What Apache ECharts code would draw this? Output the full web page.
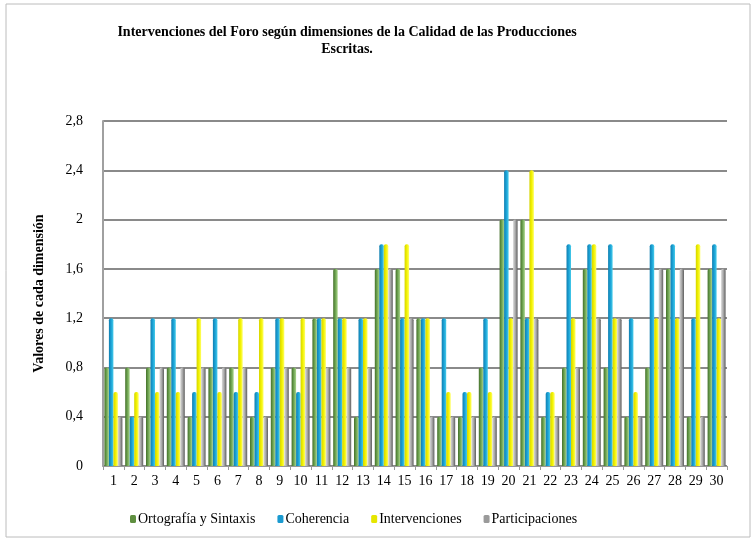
<!DOCTYPE html>
<html>
<head>
<meta charset="utf-8">
<script src="https://cdn.jsdelivr.net/npm/echarts@6/dist/echarts.min.js"></script>
<style>
  html, body { margin: 0; padding: 0; background: #fff; }
  #chart { width: 755px; height: 542px; }
</style>
</head>
<body>
<div id="chart"></div>
<script>
var categories = ['1','2','3','4','5','6','7','8','9','10','11','12','13','14','15',
  '16','17','18','19','20','21','22','23','24','25','26','27','28','29','30'];

var ortografia     = [0.8,0.8,0.8,0.8,0.4,0.8,0.8,0.4,0.8,0.8,1.2,1.6,0.4,1.6,1.6,1.2,0.4,0.4,0.8,2.0,2.0,0.4,0.8,1.6,0.8,0.4,0.8,1.6,0.4,1.6];
var coherencia     = [1.2,0.4,1.2,1.2,0.6,1.2,0.6,0.6,1.2,0.6,1.2,1.2,1.2,1.8,1.2,1.2,1.2,0.6,1.2,2.4,1.2,0.6,1.8,1.8,1.8,1.2,1.8,1.8,1.2,1.8];
var intervenciones = [0.6,0.6,0.6,0.6,1.2,0.6,1.2,1.2,1.2,1.2,1.2,1.2,1.2,1.8,1.8,1.2,0.6,0.6,0.6,1.2,2.4,0.6,1.2,1.8,1.2,0.6,1.2,1.2,1.8,1.2];
var participaciones= [0.4,0.4,0.8,0.8,0.8,0.8,0.8,0.4,0.8,0.8,0.8,0.8,0.8,1.6,1.2,0.4,0.4,0.4,0.4,2.0,1.2,0.4,0.8,1.2,1.2,0.4,1.6,1.6,0.4,1.6];

var SERIF = 'Liberation Serif';

// horizontal gradient to fake the cylinder shading of the original
function cyl(c0, c1, c2) {
  return new echarts.graphic.LinearGradient(0, 0, 1, 0, [
    { offset: 0, color: c0 },
    { offset: 0.5, color: c1 },
    { offset: 1, color: c2 }
  ]);
}

function bar(name, data, color) {
  return {
    name: name,
    type: 'bar',
    data: data,
    barWidth: 4.5,
    barGap: '0%',
    itemStyle: { color: color, borderRadius: [2, 2, 0, 0] }
  };
}

var chart = echarts.init(document.getElementById('chart'));

var option = {
  backgroundColor: '#fff',
  animation: false,
  legend: {
    bottom: 11,
    left: 125,
    itemWidth: 6,
    itemHeight: 8,
    itemGap: 22,
    textStyle: { fontFamily: SERIF, fontSize: 14, color: '#000', padding: [0, 0, 0, -3] },
    data: [
      { name: 'Ortografía y Sintaxis', itemStyle: { color: '#5f8f40' } },
      { name: 'Coherencia', itemStyle: { color: '#1a9ad0' } },
      { name: 'Intervenciones', itemStyle: { color: '#e6e600' } },
      { name: 'Participaciones', itemStyle: { color: '#9a9a9a' } }
    ]
  },
  grid: { left: 103, right: 28, top: 121, bottom: 76 },
  xAxis: {
    type: 'category',
    data: categories,
    axisLine: { lineStyle: { color: '#999', width: 1 } },
    axisTick: { show: true, length: 4, lineStyle: { color: '#999' } },
    axisLabel: { fontFamily: SERIF, fontSize: 14, color: '#000', margin: 8, interval: 0 }
  },
  yAxis: {
    type: 'value',
    min: 0,
    max: 2.8,
    interval: 0.4,
    name: 'Valores de cada dimensión',
    nameLocation: 'middle',
    nameGap: 57,
    nameTextStyle: { fontFamily: SERIF, fontSize: 14, fontWeight: 'bold', color: '#000' },
    axisLine: { show: true, lineStyle: { color: '#a0a0a0', width: 2 } },
    axisTick: { show: false },
    axisLabel: {
      fontFamily: SERIF, fontSize: 14, color: '#000', margin: 20,
      formatter: function (v) { return String(+v.toFixed(1)).replace('.', ','); }
    },
    splitLine: { lineStyle: { color: '#8a8a8a', width: 2 } }
  },
  graphic: [{
    type: 'rect',
    shape: { x: 6, y: 4, width: 744, height: 533 },
    style: { fill: 'none', stroke: '#bcbcbc', lineWidth: 1 },
    silent: true
  }, {
    type: 'text',
    x: 347,
    y: 24,
    style: {
      text: 'Intervenciones del Foro según dimensiones de la Calidad de las Producciones\nEscritas.',
      align: 'center',
      fontFamily: SERIF,
      fontSize: 14,
      fontWeight: 'bold',
      lineHeight: 17,
      fill: '#000'
    },
    silent: true
  }],
  series: [
    bar('Ortografía y Sintaxis', ortografia, cyl('#44702a', '#6fa552', '#a9d48c')),
    bar('Coherencia', coherencia, cyl('#117fb0', '#1aa2d6', '#46cbea')),
    bar('Intervenciones', intervenciones, cyl('#d4d400', '#f2f200', '#ffff66')),
    bar('Participaciones', participaciones, cyl('#d8d8d8', '#a8a8a8', '#5e5e5e'))
  ]
};

chart.setOption(option);
</script>
</body>
</html>
